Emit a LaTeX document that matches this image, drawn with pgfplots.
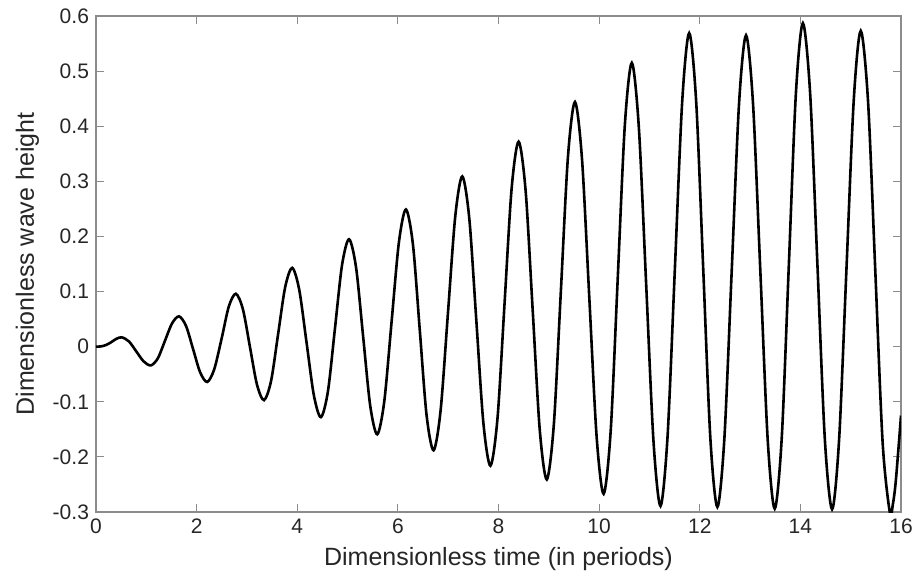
\documentclass[border=0pt]{standalone}
\usepackage{fontspec}
\setmainfont{Liberation Sans}
\usepackage{pgfplots}
\pgfplotsset{compat=1.18}
\begin{document}
\begin{tikzpicture}
\begin{axis}[
  scale only axis,
  width=402.5pt, height=248pt,
  xmin=0, xmax=16, ymin=-0.3, ymax=0.6,
  xtick={0,2,4,6,8,10,12,14,16},
  ytick={-0.3,-0.2,-0.1,0,0.1,0.2,0.3,0.4,0.5,0.6},
  tick align=inside,
  major tick length=4pt,
  axis line style={black!45, line width=0.6pt},
  every tick/.style={black!45, line width=0.6pt},
  /pgf/number format/assume math mode=true,
  yticklabel style={/pgf/number format/fixed, /pgf/number format/precision=1},
  tick label style={font=\fontsize{10.5}{12}\selectfont, text=black!85},
  label style={font=\fontsize{12.5}{14}\selectfont, text=black!85},
  xlabel={Dimensionless time (in periods)},
  ylabel={Dimensionless wave height},
  clip=true,
]
\addplot[black, line width=1.3pt, smooth] coordinates {
(0,0) (0.1,0.0005) (0.2,0.003) (0.3,0.008) (0.4,0.014) (0.51,0.017)
(0.655,0.0095) (0.80,-0.0085) (0.945,-0.0265) (1.09,-0.034)
(1.23,-0.021) (1.37,0.0105) (1.51,0.042) (1.65,0.055)
(1.79,0.0375) (1.93,-0.0045) (2.07,-0.0465) (2.21,-0.064)
(2.35,-0.041) (2.50,0.016) (2.64,0.073) (2.78,0.096)
(2.92,0.068) (3.06,-0.0005) (3.20,-0.069) (3.34,-0.097)
(3.48,-0.062) (3.62,0.023) (3.76,0.108) (3.90,0.143)
(4.04,0.103) (4.185,0.0075) (4.33,-0.088) (4.47,-0.128)
(4.61,-0.081) (4.75,0.0335) (4.89,0.148) (5.03,0.195)
(5.17,0.143) (5.31,0.018) (5.45,-0.107) (5.59,-0.159)
(5.73,-0.099) (5.875,0.045) (6.02,0.189) (6.16,0.249)
(6.30,0.185) (6.435,0.0305) (6.57,-0.124) (6.71,-0.188)
(6.85,-0.115) (6.995,0.0605) (7.14,0.236) (7.28,0.309)
(7.42,0.232) (7.56,0.0465) (7.70,-0.139) (7.84,-0.216)
(7.98,-0.130) (8.12,0.078) (8.26,0.286) (8.40,0.372)
(8.54,0.282) (8.68,0.0655) (8.82,-0.151) (8.96,-0.241)
(9.10,-0.141) (9.24,0.1015) (9.38,0.344) (9.52,0.444)
(9.66,0.340) (9.805,0.0885) (9.95,-0.163) (10.09,-0.267)
(10.23,-0.1525) (10.37,0.124) (10.51,0.4005) (10.65,0.515)
(10.79,0.397) (10.935,0.113) (11.08,-0.171) (11.22,-0.289)
(11.36,-0.163) (11.505,0.14) (11.65,0.443) (11.79,0.569)
(11.93,0.443) (12.07,0.139) (12.21,-0.165) (12.35,-0.291)
(12.49,-0.1656) (12.635,0.137) (12.78,0.4396) (12.92,0.565)
(13.06,0.439) (13.205,0.1355) (13.35,-0.168) (13.49,-0.294)
(13.63,-0.165) (13.77,0.1465) (13.91,0.458) (14.05,0.587)
(14.195,0.458) (14.34,0.146) (14.485,-0.166) (14.63,-0.295)
(14.77,-0.168) (14.915,0.139) (15.06,0.446) (15.20,0.573)
(15.345,0.445) (15.49,0.1355) (15.635,-0.174) (15.78,-0.302)
(15.84,-0.285) (15.89,-0.25) (15.945,-0.19) (16.0,-0.125)
};
\end{axis}
\pgfresetboundingbox
\useasboundingbox (-48pt,-36pt) rectangle (412.5pt,256pt);
\end{tikzpicture}
\end{document}
